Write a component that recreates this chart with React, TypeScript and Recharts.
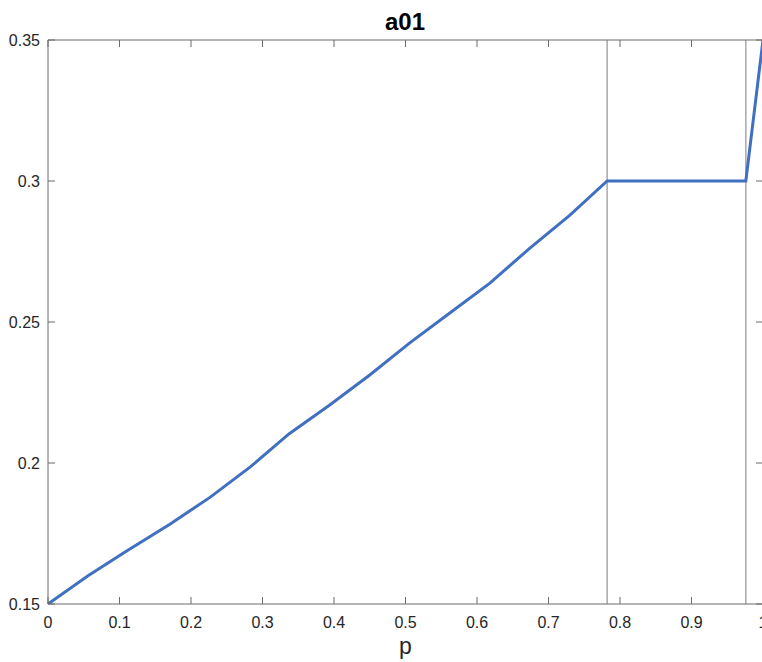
import React from "react";
import { LineChart, Line, XAxis, YAxis, ReferenceLine } from "recharts";

const pValues = [0, 0.056, 0.11, 0.171, 0.227, 0.283, 0.337, 0.394, 0.45, 0.506, 0.562, 0.618, 0.674, 0.73, 0.782, 0.976, 1];
const a01Values = [0.15, 0.16, 0.1688, 0.1784, 0.1879, 0.1986, 0.2103, 0.2206, 0.2312, 0.2426, 0.2532, 0.2638, 0.2762, 0.2879, 0.3, 0.3, 0.35];
const xTicks = [0, 0.1, 0.2, 0.3, 0.4, 0.5, 0.6, 0.7, 0.8, 0.9, 1];
const yTicks = [0.15, 0.2, 0.25, 0.3, 0.35];
const breakpoints = [0.782, 0.976];

const data = pValues.map((p, i) => ({ p, a01: a01Values[i] }));

const FONT = "'Liberation Sans', Arial, Helvetica, sans-serif";
const AXIS = "#6b6b6b";
const TEXT = "#262626";
const TICK_LEN = 7;

// bottom: label below the axis, tick pointing up into the plot
const BottomTick = (props: any) => {
  const { x, y, payload } = props;
  const axisY = y - 12;
  return (
    <g>
      <line x1={x} x2={x} y1={axisY} y2={axisY - TICK_LEN} stroke={AXIS} />
      <text x={x} y={y} dy={12} textAnchor="middle" fill={TEXT} fontSize={16} fontFamily={FONT}>
        {payload.value}
      </text>
    </g>
  );
};

const LeftTick = (props: any) => {
  const { x, y, payload } = props;
  const axisX = x + 8;
  return (
    <g>
      <line x1={axisX} x2={axisX + TICK_LEN} y1={y} y2={y} stroke={AXIS} />
      <text x={x} y={y} dy={6} textAnchor="end" fill={TEXT} fontSize={16} fontFamily={FONT}>
        {payload.value}
      </text>
    </g>
  );
};

const TopTick = (props: any) => {
  const { x, y } = props;
  return <line x1={x} x2={x} y1={y} y2={y + TICK_LEN} stroke={AXIS} />;
};

const RightTick = (props: any) => {
  const { x, y } = props;
  return <line x1={x - TICK_LEN} x2={x} y1={y} y2={y} stroke={AXIS} />;
};

const App = () => {
  return (
    <div
      style={{
        position: "fixed",
        left: 0,
        top: 0,
        width: 762,
        height: 662,
        overflow: "hidden",
        background: "#fff",
      }}
    >
      <div
        style={{
          position: "absolute",
          left: 0,
          width: 810,
          top: 8,
          lineHeight: "28px",
          textAlign: "center",
          fontFamily: FONT,
          fontWeight: "bold",
          fontSize: 24,
          color: "#000",
        }}
      >
        a01
      </div>
      <LineChart width={770} height={662} data={data} margin={{ top: 39, right: 6, bottom: 0, left: 0 }}>
        <XAxis
          xAxisId="bottom"
          dataKey="p"
          type="number"
          domain={[0, 1]}
          ticks={xTicks}
          orientation="bottom"
          height={58}
          stroke={AXIS}
          tickLine={false}
          tickSize={0}
          tickMargin={12}
          tick={<BottomTick />}
          interval={0}
          label={{ value: "p", position: "insideBottom", offset: 8, fill: TEXT, fontSize: 23, fontFamily: FONT }}
        />
        <XAxis
          xAxisId="top"
          dataKey="p"
          type="number"
          domain={[0, 1]}
          ticks={xTicks}
          orientation="top"
          height={1}
          stroke={AXIS}
          tickLine={false}
          tickSize={0}
          tickMargin={0}
          tick={<TopTick />}
          interval={0}
        />
        <YAxis
          yAxisId="left"
          type="number"
          domain={[0.15, 0.35]}
          ticks={yTicks}
          allowDataOverflow
          width={48}
          stroke={AXIS}
          tickLine={false}
          tickSize={0}
          tickMargin={8}
          tick={<LeftTick />}
          interval={0}
        />
        <YAxis
          yAxisId="right"
          orientation="right"
          type="number"
          domain={[0.15, 0.35]}
          ticks={yTicks}
          allowDataOverflow
          width={1}
          stroke={AXIS}
          tickLine={false}
          tickSize={0}
          tickMargin={0}
          tick={<RightTick />}
          interval={0}
        />
        {breakpoints.map((b) => (
          <ReferenceLine key={b} x={b} xAxisId="bottom" yAxisId="left" stroke="#a8a8a8" strokeWidth={1.5} />
        ))}
        <Line
          xAxisId="bottom"
          yAxisId="left"
          type="linear"
          dataKey="a01"
          stroke="#4070c0"
          strokeWidth={3}
          dot={false}
          isAnimationActive={false}
        />
      </LineChart>
    </div>
  );
};

export default App;
